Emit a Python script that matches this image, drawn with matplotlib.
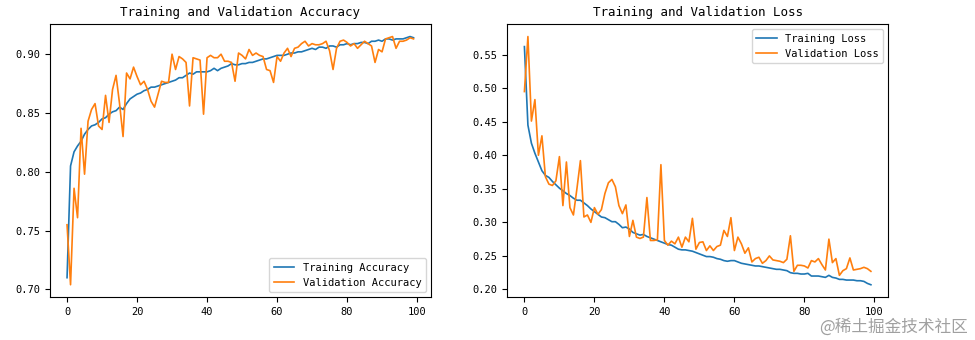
import numpy as np
import matplotlib
matplotlib.use("Agg")
import matplotlib.pyplot as plt

plt.rcParams['font.family'] = ['DejaVu Sans Mono', 'Noto Sans CJK SC']

# training history values
train_acc = [0.710, 0.805, 0.817, 0.822, 0.826, 0.832, 0.836, 0.839, 0.840, 0.842,
             0.845, 0.846, 0.849, 0.851, 0.852, 0.855, 0.853, 0.858, 0.862, 0.864,
             0.866, 0.867, 0.869, 0.870, 0.872, 0.872, 0.873, 0.874, 0.875, 0.876,
             0.877, 0.878, 0.880, 0.880, 0.882, 0.884, 0.883, 0.885, 0.885, 0.885,
             0.885, 0.886, 0.888, 0.886, 0.888, 0.889, 0.890, 0.892, 0.891, 0.891,
             0.892, 0.892, 0.893, 0.893, 0.894, 0.895, 0.896, 0.896, 0.897, 0.898,
             0.899, 0.899, 0.899, 0.900, 0.901, 0.901, 0.902, 0.902, 0.903, 0.904,
             0.905, 0.904, 0.906, 0.906, 0.905, 0.907, 0.907, 0.906, 0.908, 0.908,
             0.909, 0.908, 0.909, 0.909, 0.910, 0.910, 0.909, 0.911, 0.911, 0.912,
             0.911, 0.913, 0.913, 0.912, 0.913, 0.913, 0.913, 0.914, 0.915, 0.914]

val_acc = [0.755, 0.704, 0.786, 0.761, 0.837, 0.798, 0.843, 0.853, 0.858, 0.839,
           0.836, 0.865, 0.842, 0.870, 0.882, 0.858, 0.830, 0.884, 0.879, 0.889,
           0.881, 0.874, 0.877, 0.870, 0.860, 0.855, 0.866, 0.877, 0.876, 0.876,
           0.900, 0.887, 0.898, 0.896, 0.893, 0.856, 0.897, 0.896, 0.895, 0.849,
           0.897, 0.899, 0.897, 0.897, 0.900, 0.894, 0.894, 0.893, 0.877, 0.901,
           0.899, 0.896, 0.904, 0.899, 0.901, 0.899, 0.898, 0.887, 0.886, 0.876,
           0.898, 0.894, 0.901, 0.905, 0.898, 0.905, 0.906, 0.909, 0.911, 0.907,
           0.909, 0.908, 0.908, 0.909, 0.911, 0.903, 0.887, 0.905, 0.911, 0.912,
           0.910, 0.907, 0.909, 0.905, 0.908, 0.911, 0.909, 0.907, 0.893, 0.904,
           0.902, 0.913, 0.914, 0.915, 0.905, 0.911, 0.911, 0.912, 0.914, 0.913]

train_loss = [0.562, 0.445, 0.418, 0.403, 0.390, 0.377, 0.370, 0.367, 0.361, 0.356,
              0.351, 0.347, 0.343, 0.340, 0.336, 0.333, 0.333, 0.329, 0.325, 0.320,
              0.316, 0.312, 0.308, 0.307, 0.304, 0.301, 0.301, 0.297, 0.292, 0.293,
              0.290, 0.285, 0.283, 0.281, 0.282, 0.279, 0.277, 0.275, 0.273, 0.271,
              0.269, 0.267, 0.266, 0.263, 0.260, 0.259, 0.259, 0.258, 0.257, 0.255,
              0.253, 0.251, 0.249, 0.249, 0.248, 0.246, 0.245, 0.243, 0.242, 0.243,
              0.243, 0.241, 0.239, 0.238, 0.237, 0.236, 0.235, 0.235, 0.234, 0.233,
              0.232, 0.231, 0.230, 0.230, 0.229, 0.228, 0.225, 0.224, 0.224, 0.223,
              0.223, 0.224, 0.220, 0.220, 0.220, 0.219, 0.218, 0.221, 0.218, 0.217,
              0.215, 0.215, 0.214, 0.214, 0.214, 0.213, 0.213, 0.212, 0.209, 0.207]

val_loss = [0.495, 0.577, 0.451, 0.483, 0.400, 0.429, 0.368, 0.357, 0.355, 0.362,
            0.398, 0.325, 0.390, 0.322, 0.311, 0.350, 0.392, 0.308, 0.311, 0.300,
            0.322, 0.312, 0.319, 0.343, 0.359, 0.364, 0.353, 0.325, 0.313, 0.326,
            0.279, 0.303, 0.278, 0.276, 0.278, 0.337, 0.273, 0.273, 0.274, 0.386,
            0.273, 0.266, 0.272, 0.268, 0.278, 0.263, 0.278, 0.271, 0.306, 0.260,
            0.270, 0.271, 0.258, 0.265, 0.258, 0.264, 0.266, 0.288, 0.279, 0.307,
            0.258, 0.278, 0.268, 0.254, 0.262, 0.241, 0.246, 0.248, 0.239, 0.243,
            0.250, 0.244, 0.243, 0.242, 0.240, 0.245, 0.280, 0.227, 0.236, 0.236,
            0.235, 0.232, 0.243, 0.241, 0.246, 0.237, 0.229, 0.275, 0.240, 0.246,
            0.221, 0.228, 0.231, 0.247, 0.229, 0.230, 0.231, 0.233, 0.231, 0.227]

epochs_range = range(len(train_acc))

fig = plt.figure(figsize=(9.75, 3.4), dpi=100)
plt.subplots_adjust(left=0.051, right=0.911, bottom=0.126, top=0.929, wspace=0.2)

plt.subplot(1, 2, 1)
plt.plot(epochs_range, train_acc, label='Training Accuracy', lw=1.2)
plt.plot(epochs_range, val_acc, label='Validation Accuracy', lw=1.2)
plt.legend(loc='lower right', fontsize=7.5)
plt.title('Training and Validation Accuracy', fontsize=9)
plt.tick_params(labelsize=7.5)

plt.subplot(1, 2, 2)
plt.plot(epochs_range, train_loss, label='Training Loss', lw=1.2)
plt.plot(epochs_range, val_loss, label='Validation Loss', lw=1.2)
plt.legend(loc='upper right', fontsize=7.5)
plt.title('Training and Validation Loss', fontsize=9)
plt.tick_params(labelsize=7.5)

# site watermark
fig.text(0.993, 0.012, '@稀土掘金技术社区', ha='right', va='bottom', fontsize=12,
         color='#a0a0a0', family=['Noto Sans CJK SC', 'DejaVu Sans'])

plt.savefig('out.png', dpi=100)
